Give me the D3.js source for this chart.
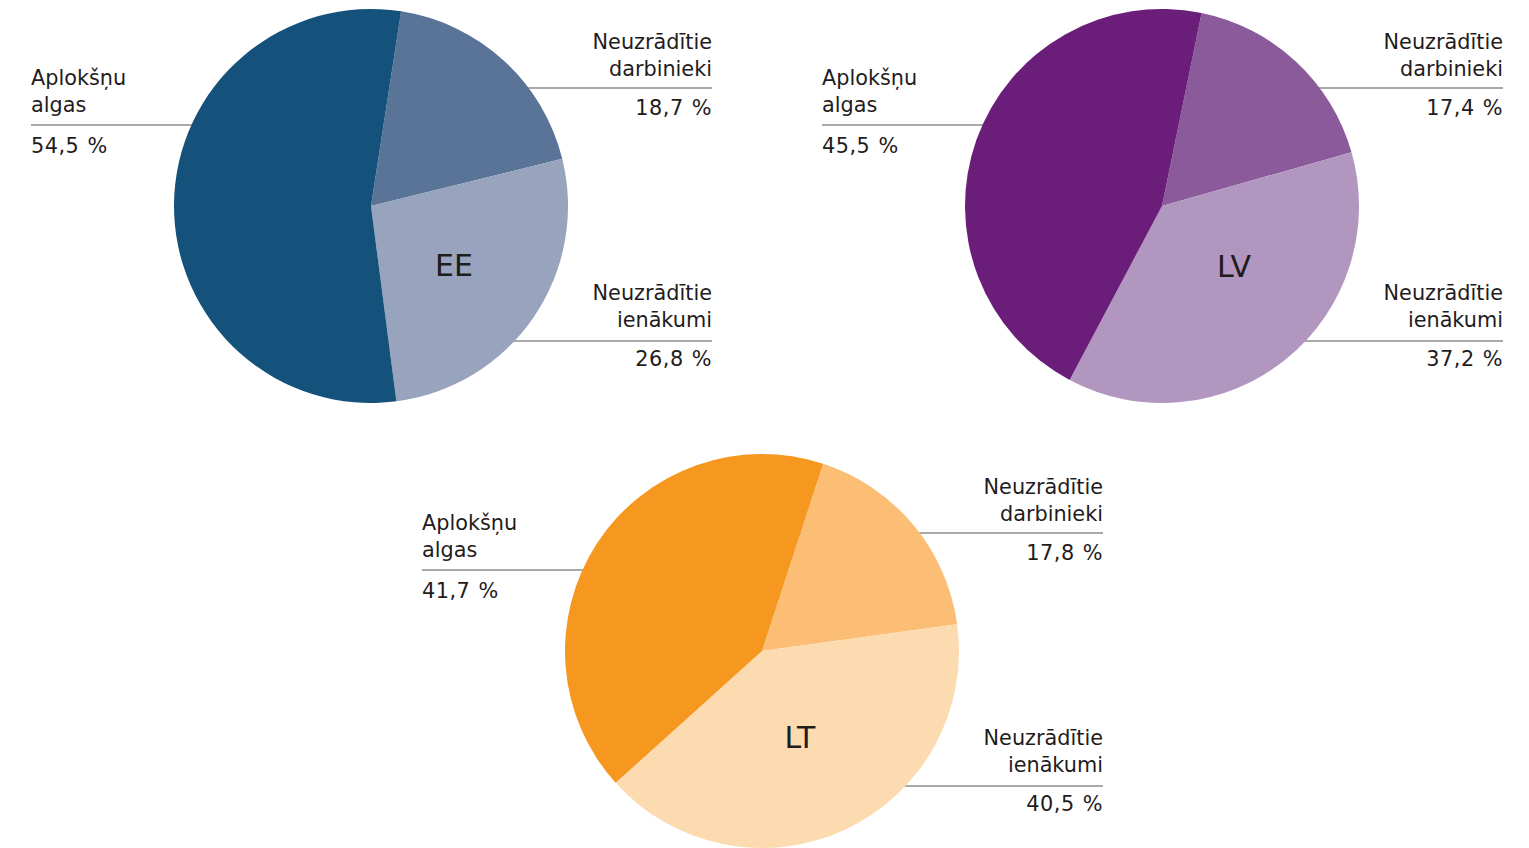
<!DOCTYPE html>
<html>
<head>
<meta charset="utf-8">
<script src="https://cdn.jsdelivr.net/npm/d3@7/dist/d3.min.js"></script>
<style>
  html, body { margin: 0; padding: 0; background: #fff; }
  svg { display: block; }
  text { font-family: "DejaVu Sans", Verdana, sans-serif; fill: #1f1c1d; }
</style>
</head>
<body>
<svg id="chart" width="1529" height="848"></svg>
<script>
// ---- Data ----
const countries = ["EE", "LV", "LT"];
const categories = ["Neuzrādītie darbinieki", "Neuzrādītie ienākumi", "Aplokšņu algas"];
const valuesEE = [18.7, 26.8, 54.5];
const valuesLV = [17.4, 37.2, 45.5];
const valuesLT = [17.8, 40.5, 41.7];
const startAnglesDeg = [8.8, 11.6, 18.1];
const colorsEE = ["#5a7498", "#98a3bd", "#14517b"];
const colorsLV = ["#8a5a9a", "#b196c0", "#6a1e7a"];
const colorsLT = ["#fbbe74", "#fddbb0", "#f6971f"];

const values = [valuesEE, valuesLV, valuesLT];
const colors = [colorsEE, colorsLV, colorsLT];

// ---- Layout ----
const centers = [[371, 206], [1162, 206], [762, 651]];
const centerLabelOffsets = [[83, 59], [72, 60], [38, 86]];
const R = 197;
const svg = d3.select("#chart");
const fmt = v => d3.format(".1f")(v).replace(".", ",") + " %";
const arc = d3.arc().innerRadius(0).outerRadius(R);
const FS = 20.8;

countries.forEach((c, i) => {
  const [cx, cy] = centers[i];
  const g = svg.append("g").attr("transform", `translate(${cx},${cy})`);
  const vals = values[i];
  const cats = categories;

  const labels = [
    { k: 2, side: "left",  lines: cats[2].split(" "), y1: -121, lineY: -81, pctY: -53 },
    { k: 0, side: "right", lines: cats[0].split(" "), y1: -157, lineY: -118, pctY: -91 },
    { k: 1, side: "right", lines: cats[1].split(" "), y1: 94, lineY: 135, pctY: 160 }
  ];

  const lg = g.append("g");
  labels.forEach(L => {
    const x = L.side === "left" ? -340 : 341;
    const anchor = L.side === "left" ? "start" : "end";
    lg.append("line")
      .attr("x1", x).attr("x2", 0)
      .attr("y1", L.lineY).attr("y2", L.lineY)
      .attr("stroke", "#555").attr("stroke-width", 1.2);
    L.lines.forEach((t, j) => {
      lg.append("text")
        .attr("x", x).attr("y", L.y1 + j * 27)
        .attr("text-anchor", anchor)
        .style("font-size", FS + "px")
        .text(t);
    });
    lg.append("text")
      .attr("x", x).attr("y", L.pctY)
      .attr("text-anchor", anchor)
      .style("font-size", FS + "px")
      .style("letter-spacing", "0.5px")
      .style("word-spacing", "1px")
      .text(fmt(vals[L.k]));
  });

  const start = startAnglesDeg[i] * Math.PI / 180;
  const pie = d3.pie().sort(null).value(d => d)
    .startAngle(start).endAngle(start + 2 * Math.PI);

  g.selectAll("path.slice")
    .data(pie(vals))
    .join("path")
    .attr("class", "slice")
    .attr("d", arc)
    .attr("fill", (d, j) => colors[i][j]);

  g.append("text")
    .attr("x", centerLabelOffsets[i][0])
    .attr("y", centerLabelOffsets[i][1] + 11)
    .attr("text-anchor", "middle")
    .style("font-size", "30px")
    .text(c);
});
</script>
</body>
</html>
